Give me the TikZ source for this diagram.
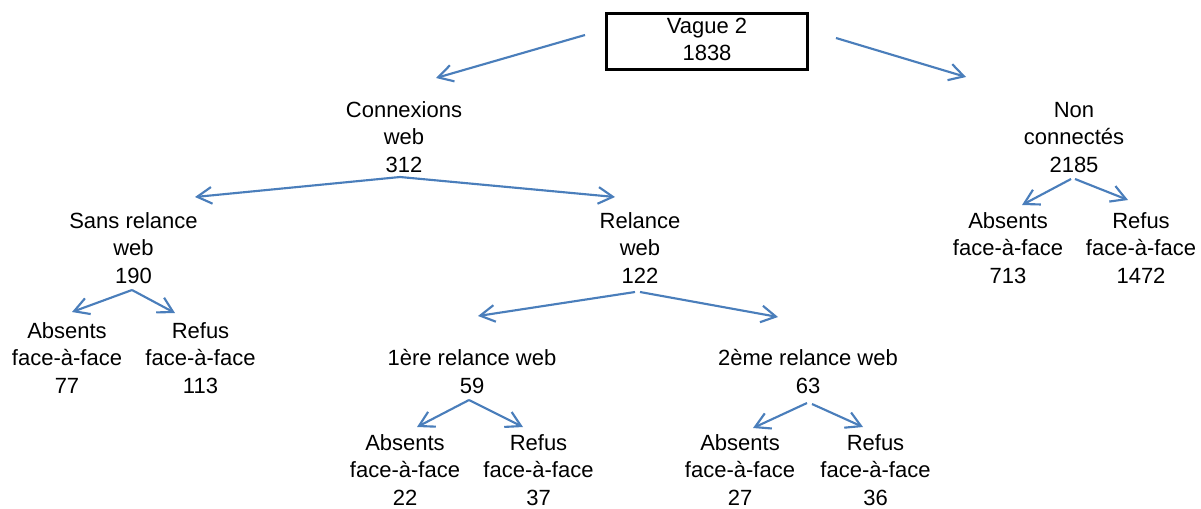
\documentclass[tikz,border=0pt]{standalone}
\usepackage{fontspec}
\setmainfont{Liberation Sans}
\usetikzlibrary{arrows.meta}
\definecolor{arrowblue}{HTML}{4A7EBB}
\tikzset{
  lbl/.style={inner sep=0pt, align=center, font=\fontsize{16.5}{20.8}\selectfont},
  rootbox/.style={lbl, draw=black, line width=2.2pt, minimum width=151pt, minimum height=39.5pt},
  arr/.style={draw=arrowblue, line width=1.6pt, -{Straight Barb[length=11pt,width=12.5pt]}},
}
\newcommand{\lnstr}{\strut}
\begin{document}
\begin{tikzpicture}[x=0.75pt, y=-0.75pt]
\useasboundingbox (0,0) rectangle (1201,508);
% nodes
\node[rootbox] (top) at (707,41.5) {Vague 2\lnstr\\1838\lnstr};
\node[lbl] (conn) at (404,139.2) {Connexions\lnstr\\web\lnstr\\312\lnstr};
\node[lbl] (non) at (1074,139.2) {Non\lnstr\\connectés\lnstr\\2185\lnstr};
\node[lbl] (sans) at (133.5,250.2) {Sans relance\lnstr\\web\lnstr\\190\lnstr};
\node[lbl] (rel) at (640,250.2) {Relance\lnstr\\web\lnstr\\122\lnstr};
\node[lbl] (a4) at (1008,250.2) {Absents\lnstr\\face-à-face\lnstr\\713\lnstr};
\node[lbl] (r4) at (1141,250.2) {Refus\lnstr\\face-à-face\lnstr\\1472\lnstr};
\node[lbl] (a1) at (67,360.2) {Absents\lnstr\\face-à-face\lnstr\\77\lnstr};
\node[lbl] (r1) at (200.5,360.2) {Refus\lnstr\\face-à-face\lnstr\\113\lnstr};
\node[lbl] (first) at (472,374.3) {1ère relance web\lnstr\\59\lnstr};
\node[lbl] (second) at (808,374.3) {2ème relance web\lnstr\\63\lnstr};
\node[lbl] (a2) at (405,472.2) {Absents\lnstr\\face-à-face\lnstr\\22\lnstr};
\node[lbl] (r2) at (538.5,472.2) {Refus\lnstr\\face-à-face\lnstr\\37\lnstr};
\node[lbl] (a3) at (740,472.2) {Absents\lnstr\\face-à-face\lnstr\\27\lnstr};
\node[lbl] (r3) at (875.5,472.2) {Refus\lnstr\\face-à-face\lnstr\\36\lnstr};
% connectors
\draw[arr] ([shift={(-122,-6.5)}]top.center) -- ([shift={(32,-61.2)}]conn.center);
\draw[arr] ([shift={(129,-3.5)}]top.center) -- ([shift={(-108,-62.2)}]non.center);
\draw[arr] ([shift={(-4,37.8)}]conn.center) -- ([shift={(61.5,-53.2)}]sans.center);
\draw[arr] ([shift={(-4,37.8)}]conn.center) -- ([shift={(-25,-53.2)}]rel.center);
\draw[arr] ([shift={(-1.5,39.8)}]sans.center) -- ([shift={(5,-48.2)}]a1.center);
\draw[arr] ([shift={(-1.5,39.8)}]sans.center) -- ([shift={(-25.5,-47.2)}]r1.center);
\draw[arr] ([shift={(-5,41.8)}]rel.center) -- ([shift={(6,-58.3)}]first.center);
\draw[arr] ([shift={(0,41.8)}]rel.center) -- ([shift={(-30,-57.3)}]second.center);
\draw[arr] ([shift={(-3,25.7)}]first.center) -- ([shift={(12,-45.2)}]a2.center);
\draw[arr] ([shift={(-3,25.7)}]first.center) -- ([shift={(-15.5,-45.2)}]r2.center);
\draw[arr] ([shift={(-1,28.7)}]second.center) -- ([shift={(13,-44.2)}]a3.center);
\draw[arr] ([shift={(4,29.7)}]second.center) -- ([shift={(-12.5,-45.2)}]r3.center);
\draw[arr] ([shift={(-3,39.8)}]non.center) -- ([shift={(14,-45.2)}]a4.center);
\draw[arr] ([shift={(1,39.8)}]non.center) -- ([shift={(-13,-50.2)}]r4.center);
\end{tikzpicture}
\end{document}
